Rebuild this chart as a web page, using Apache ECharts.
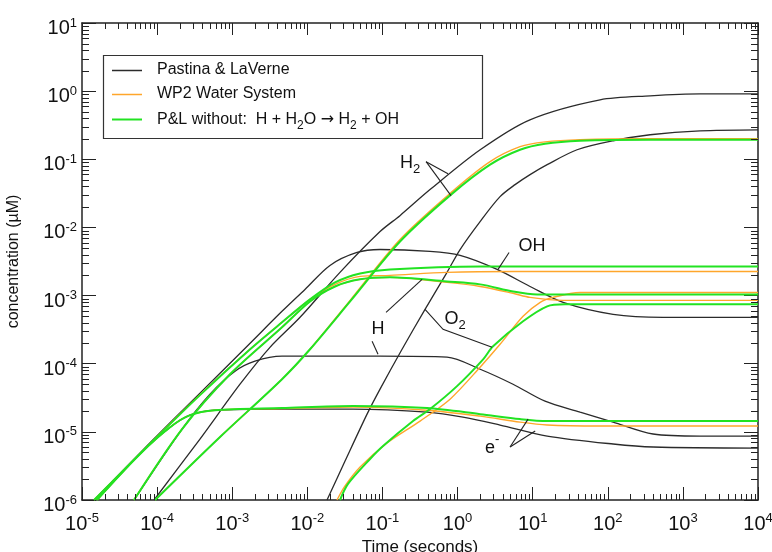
<!DOCTYPE html>
<html><head><meta charset="utf-8">
<script src="https://cdn.jsdelivr.net/npm/echarts@6/dist/echarts.min.js"></script>
<style>html,body{margin:0;padding:0;background:#fff}#c{width:772px;height:552px}</style>
</head><body><div id="c"></div>
<script>
// ---------- tick labels (powers of ten) ----------
const xExponents = [-5,-4,-3,-2,-1,0,1,2,3,4];
const yExponents = [-6,-5,-4,-3,-2,-1,0,1];

// ---------- series names ----------
const seriesNames = ['Pastina & LaVerne', 'WP2 Water System', 'P&L without:  H + H2O \u2192 H2 + OH'];

// ---------- Pastina & LaVerne (black) : [time s, conc µM] ----------
const plH2 = [[9.1e-5,1e-6],[3.72e-4,7.85e-6],[1.27e-3,5.0e-5],[3.18e-3,1.74e-4],[8.0e-3,4.8e-4],[0.0272,2.19e-3],[0.0929,8.7e-3],[0.171,0.0149],[0.43,0.0359],[2.0,0.138],[9.2,0.38],[79,0.746],[366,0.853],[1694,0.912],[1e4,0.912]];
const plOH = [[1.45e-5,1e-6],[8.0e-5,6.86e-6],[3.72e-4,3.7e-5],[1.73e-3,2.0e-4],[4.6e-3,5.87e-4],[9.3e-3,1.23e-3],[0.02,2.77e-3],[0.0459,4.29e-3],[0.0929,4.74e-3],[0.43,4.44e-3],[1.08,3.88e-3],[3.36,2.42e-3],[9.23,1.36e-3],[25.4,7.95e-4],[117.7,5.31e-4],[545,4.8e-4],[1e4,4.8e-4]];
const plH = [[4.92e-5,1e-6],[2.15e-4,1.1e-5],[5.06e-4,3.58e-5],[1.09e-3,7.76e-5],[2.01e-3,1.09e-4],[4.6e-3,1.29e-4],[0.0929,1.29e-4],[0.724,1.25e-4],[2.0,8.3e-5],[5.48,5.0e-5],[14.6,2.82e-5],[42.8,1.95e-5],[117.7,1.39e-5],[401,9.3e-6],[1694,8.68e-6],[1e4,8.68e-6]];
const plE = [[1.58e-5,1e-6],[5.91e-5,4.73e-6],[1.49e-4,1.17e-5],[2.74e-4,1.76e-5],[5.9e-4,2.08e-5],[4.6e-3,2.16e-5],[0.0407,2.16e-5],[0.3926,1.95e-5],[1.18,1.65e-5],[3.68,1.26e-5],[15.6,8.68e-6],[117.7,6.63e-6],[401,5.99e-6],[1e4,5.79e-6]];
const plO2 = [[0.01828,1e-6],[0.03177,3.73e-6],[0.0624,1.82e-5],[0.0929,4.24e-5],[0.1824,1.63e-4],[0.369,6.28e-4],[0.724,2.19e-3],[1.08,4.74e-3],[1.995,0.0122],[3.68,0.0283],[5.83,0.0425],[9.23,0.0596],[15.6,0.0834],[39.0,0.138],[117.7,0.187],[366,0.229],[1694,0.262],[1e4,0.271]];

// ---------- WP2 Water System (orange) ----------
const wpH2 = [[9.4e-5,1e-6],[6.88e-4,8.4e-6],[4.6e-3,5.93e-5],[0.01086,1.63e-4],[0.0371,8.5e-4],[0.1714,6.65e-3],[0.818,0.0324],[2.71,0.0923],[6.79,0.153],[14.6,0.18],[42.8,0.194],[366,0.2],[1e4,0.2]];
const wpOH = [[1.45e-5,1e-6],[8.0e-5,6.7e-6],[3.72e-4,3.5e-5],[1.73e-3,1.63e-4],[4.6e-3,4.05e-4],[0.01086,8.8e-4],[0.0234,1.46e-3],[0.0504,1.91e-3],[0.126,1.98e-3],[0.724,2.19e-3],[5.48,2.26e-3],[1e4,2.26e-3]];
const wpH = [[4.92e-5,1e-6],[2.15e-4,1.1e-5],[9.35e-4,7.0e-5],[4.6e-3,3.42e-4],[0.01086,8.2e-4],[0.0234,1.36e-3],[0.0504,1.73e-3],[0.126,1.85e-3],[0.724,1.56e-3],[2.0,1.36e-3],[5.48,1.08e-3],[9.23,9.4e-4],[25.4,8.5e-4],[78.9,8.5e-4],[1e4,8.5e-4]];
const wpE = [[1.58e-5,1e-6],[5.91e-5,4.73e-6],[1.49e-4,1.17e-5],[2.74e-4,1.76e-5],[5.9e-4,2.08e-5],[4.6e-3,2.2e-5],[0.0407,2.31e-5],[0.3926,2.08e-5],[2.0,1.7e-5],[6.79,1.39e-5],[15.6,1.26e-5],[78.9,1.22e-5],[1e4,1.22e-5]];
const wpO2 = [[0.02483,1e-6],[0.03177,1.61e-6],[0.0504,3.05e-6],[0.1151,6.86e-6],[0.317,1.44e-5],[0.794,3.02e-5],[1.995,8.9e-5],[3.68,1.93e-4],[7.45,4.96e-4],[12.6,7.95e-4],[18.7,9.4e-4],[42.8,1.11e-3],[1e4,1.11e-3]];

// ---------- P&L without H + H2O -> H2 + OH (green) ----------
const nhH2 = [[9.4e-5,1e-6],[6.88e-4,8.4e-6],[4.6e-3,5.93e-5],[0.01086,1.63e-4],[0.0371,8.2e-4],[0.1714,6.22e-3],[0.818,0.0303],[2.71,0.0834],[6.79,0.138],[14.6,0.169],[42.8,0.187],[366,0.194],[1e4,0.194]];
const nhOH = [[1.45e-5,1e-6],[8.0e-5,6.63e-6],[3.72e-4,3.46e-5],[1.73e-3,1.63e-4],[4.6e-3,4.05e-4],[0.01086,8.8e-4],[0.0234,1.56e-3],[0.0504,2.11e-3],[0.126,2.42e-3],[2.0,2.68e-3],[1e4,2.68e-3]];
const nhH = [[4.92e-5,1e-6],[2.15e-4,1.1e-5],[9.35e-4,7.0e-5],[4.6e-3,3.42e-4],[0.01086,8.2e-4],[0.0234,1.36e-3],[0.0504,1.73e-3],[0.126,1.85e-3],[0.724,1.61e-3],[2.0,1.46e-3],[5.48,1.15e-3],[11.45,1.04e-3],[42.8,1.04e-3],[1e4,1.04e-3]];
const nhE = [[1.58e-5,1e-6],[5.91e-5,4.73e-6],[1.49e-4,1.17e-5],[2.74e-4,1.76e-5],[5.9e-4,2.08e-5],[4.6e-3,2.23e-5],[0.0407,2.39e-5],[0.3926,2.23e-5],[2.0,1.82e-5],[6.79,1.54e-5],[15.6,1.44e-5],[78.9,1.44e-5],[1e4,1.44e-5]];
const nhO2 = [[0.02723,1e-6],[0.0348,1.72e-6],[0.0684,4.0e-6],[0.1019,6.2e-6],[0.2553,1.44e-5],[0.4305,2.16e-5],[0.984,4.69e-5],[2.19,1.16e-4],[2.97,1.8e-4],[7.45,4.19e-4],[15.6,6.95e-4],[27.0,7.43e-4],[78.9,7.43e-4],[1e4,7.43e-4]];

// ---------- annotation anchors [time, conc] ----------
const annH2Text = [0.233, 0.0891];
const annH2Lines = [[[0.381,0.0923],[0.746,0.0615]], [[0.381,0.0923],[0.818,0.0293]]];
const annOHText = [9.82, 5.25e-3];
const annOHLines = [[[4.85,4.29e-3],[3.46,2.42e-3]]];
const annHText = [0.0873, 3.2e-4];
const annHLines = [[[0.1117,5.68e-4],[0.337,1.73e-3]], [[0.0728,2.13e-4],[0.0873,1.38e-4]]];
const annO2Text = [0.927, 4.49e-4];
const annO2Lines = [[[0.369,6.28e-4],[0.641,3.2e-4],[2.88,1.74e-4]]];
const annEText = [2.88, 6.41e-6];
const annELines = [[[5.0,5.99e-6],[8.69,1.54e-5]], [[5.0,5.99e-6],[10.8,1.03e-5]]];

// ---------- styling ----------
const FONT = 'Liberation Sans, Arial, Helvetica, sans-serif';
const BLACK = '#2b2b2b', ORANGE = '#ffa62b', GREEN = '#22e322';
const INK = '#111';

const minorX = [], minorY = [];
for (let e = -5; e < 4; e++) for (let k = 2; k <= 9; k++) minorX.push([k * Math.pow(10, e), 1]);
for (let e = -6; e < 1; e++) for (let k = 2; k <= 9; k++) minorY.push([1, k * Math.pow(10, e)]);

const richAxis = {
  b: {fontSize: 20, fontFamily: FONT, color: INK, lineHeight: 22, verticalAlign: 'bottom'},
  s: {fontSize: 13, fontFamily: FONT, color: INK, lineHeight: 13, verticalAlign: 'top'}
};
const powLabel = v => { const e = Math.round(Math.log10(v)); return '{b|10}{s|' + e + '}'; };

function lineSeries(name, data, color, width, z) {
  return {type: 'line', name, data, xAxisIndex: 0, yAxisIndex: 0, showSymbol: false, symbol: 'none',
    smooth: 0.3, lineStyle: {color, width}, itemStyle: {color}, z, silent: true, animation: false};
}

function tickSeries(data, horizontal, len) {
  return {type: 'custom', xAxisIndex: 0, yAxisIndex: 0, data, silent: true, animation: false, clip: false, z: 5,
    renderItem(params, api) {
      const cs = params.coordSys;
      const p = api.coord([api.value(0), api.value(1)]);
      const st = {stroke: '#222', lineWidth: 1};
      if (horizontal) {
        const x = Math.round(p[0]) + 0.5, b = cs.y + cs.height, t = cs.y;
        return {type: 'group', children: [
          {type: 'line', shape: {x1: x, y1: b, x2: x, y2: b - len}, style: st},
          {type: 'line', shape: {x1: x, y1: t, x2: x, y2: t + len}, style: st}]};
      } else {
        const y = Math.round(p[1]) + 0.5, l = cs.x, r = cs.x + cs.width;
        return {type: 'group', children: [
          {type: 'line', shape: {x1: l, y1: y, x2: l + len, y2: y}, style: st},
          {type: 'line', shape: {x1: r, y1: y, x2: r - len, y2: y}, style: st}]};
      }
    }};
}

const axisCommon = {type: 'log', logBase: 10, interval: 1, splitLine: {show: false},
  axisLine: {show: true, lineStyle: {color: '#222', width: 1.5}}};

const option = {
  backgroundColor: '#fff',
  animation: false,
  grid: {left: 82, right: 14, top: 23, bottom: 52, containLabel: false, outerBoundsMode: 'none'},
  xAxis: [
    Object.assign({}, axisCommon, {position: 'bottom', min: 1e-5, max: 1e4,
      axisTick: {inside: true, length: 13, lineStyle: {color: '#222', width: 1}},
      axisLabel: {formatter: powLabel, rich: richAxis, margin: 12},
      name: 'Time (seconds)', nameLocation: 'middle', nameGap: 36,
      nameTextStyle: {fontSize: 17, fontFamily: FONT, color: INK}}),
    Object.assign({}, axisCommon, {position: 'top', min: 1e-5, max: 1e4,
      axisTick: {inside: true, length: 12, lineStyle: {color: '#222', width: 1}},
      axisLabel: {show: false}})
  ],
  yAxis: [
    Object.assign({}, axisCommon, {position: 'left', min: 1e-6, max: 10,
      axisTick: {inside: true, length: 14, lineStyle: {color: '#222', width: 1}},
      axisLabel: {formatter: powLabel, rich: richAxis, margin: 5, padding: [9, 0, 0, 0]},
      name: 'concentration (\u00b5M)', nameLocation: 'middle', nameGap: 60, nameRotate: 90,
      nameTextStyle: {fontSize: 16, fontFamily: FONT, color: INK}}),
    Object.assign({}, axisCommon, {position: 'right', min: 1e-6, max: 10,
      axisTick: {inside: true, length: 14, lineStyle: {color: '#222', width: 1}},
      axisLabel: {show: false}})
  ],
  series: [
    tickSeries(minorX, true, 6),
    tickSeries(minorY, false, 7),
    lineSeries(seriesNames[0], plH2, BLACK, 1.3, 2),
    lineSeries(seriesNames[0], plOH, BLACK, 1.3, 2),
    lineSeries(seriesNames[0], plH, BLACK, 1.3, 2),
    lineSeries(seriesNames[0], plE, BLACK, 1.3, 2),
    lineSeries(seriesNames[0], plO2, BLACK, 1.3, 2),
    lineSeries(seriesNames[1], wpH2, ORANGE, 1.4, 3),
    lineSeries(seriesNames[1], wpOH, ORANGE, 1.4, 3),
    lineSeries(seriesNames[1], wpH, ORANGE, 1.4, 3),
    lineSeries(seriesNames[1], wpE, ORANGE, 1.4, 3),
    lineSeries(seriesNames[1], wpO2, ORANGE, 1.4, 3),
    lineSeries(seriesNames[2], nhH2, GREEN, 2, 4),
    lineSeries(seriesNames[2], nhOH, GREEN, 2, 4),
    lineSeries(seriesNames[2], nhH, GREEN, 2, 4),
    lineSeries(seriesNames[2], nhE, GREEN, 2, 4),
    lineSeries(seriesNames[2], nhO2, GREEN, 2, 4)
  ]
};

const chart = echarts.init(document.getElementById('c'));
chart.setOption(option);

const toPx = v => chart.convertToPixel({xAxisIndex: 0, yAxisIndex: 0}, v);
const g = [];
const richAnn = {
  n: {fontSize: 18, fontFamily: FONT, fill: INK, lineHeight: 18, verticalAlign: 'top'},
  sub: {fontSize: 13, fontFamily: FONT, fill: INK, lineHeight: 13, verticalAlign: 'top', padding: [9, 0, 0, 0]},
  sup: {fontSize: 13, fontFamily: FONT, fill: INK, lineHeight: 13, verticalAlign: 'top'},
  nb: {fontSize: 18, fontFamily: FONT, fill: INK, lineHeight: 24, verticalAlign: 'bottom'}
};
function addText(anchor, text) {
  const p = toPx(anchor);
  g.push({type: 'text', x: p[0], y: p[1], z: 20, silent: true,
    style: {text, rich: richAnn, align: 'center', verticalAlign: 'middle', fill: INK, font: '18px ' + FONT}});
}
function addLines(lines) {
  lines.forEach(pts => g.push({type: 'polyline', z: 20, silent: true,
    shape: {points: pts.map(toPx)}, style: {stroke: '#222', lineWidth: 1.1, fill: null}}));
}
addText(annH2Text, '{n|H}{sub|2}'); addLines(annH2Lines);
addText(annOHText, '{n|OH}'); addLines(annOHLines);
addText(annHText, '{n|H}'); addLines(annHLines);
addText(annO2Text, '{n|O}{sub|2}'); addLines(annO2Lines);
addText(annEText, '{nb|e}{sup|-}'); addLines(annELines);

// legend box
const legX = 103, legY = 55, legW = 379, legH = 83;
const legRows = [70, 94, 119];
const legColors = [BLACK, ORANGE, GREEN];
const legTexts = ['{t|Pastina & LaVerne}', '{t|WP2 Water System}',
  '{t|P&L without:  H + H}{s|2}{t|O }{a|\u2192}{t| H}{s|2}{t| + OH}'];
const richLeg = {
  t: {fontSize: 16, fontFamily: FONT, fill: INK, lineHeight: 17, verticalAlign: 'top'},
  a: {fontSize: 16, fontFamily: 'DejaVu Sans', fill: INK, lineHeight: 17, verticalAlign: 'top'},
  s: {fontSize: 12, fontFamily: FONT, fill: INK, lineHeight: 12, verticalAlign: 'top', padding: [8, 0, 0, 0]}
};
g.push({type: 'rect', z: 20, silent: true, shape: {x: legX + 0.5, y: legY + 0.5, width: legW, height: legH},
  style: {stroke: '#333', lineWidth: 1.2, fill: '#fff'}});
legRows.forEach((y, i) => {
  g.push({type: 'line', z: 21, silent: true, shape: {x1: 112, y1: y + 0.5, x2: 142, y2: y + 0.5},
    style: {stroke: legColors[i], lineWidth: i === 2 ? 2 : 1.5}});
  g.push({type: 'text', z: 21, silent: true, x: 157, y: y + (i === 2 ? 1 : 0),
    style: {text: legTexts[i], rich: richLeg, align: 'left', verticalAlign: 'middle', fill: INK, font: '16px ' + FONT}});
});
chart.setOption({graphic: g});
</script>
</body></html>
